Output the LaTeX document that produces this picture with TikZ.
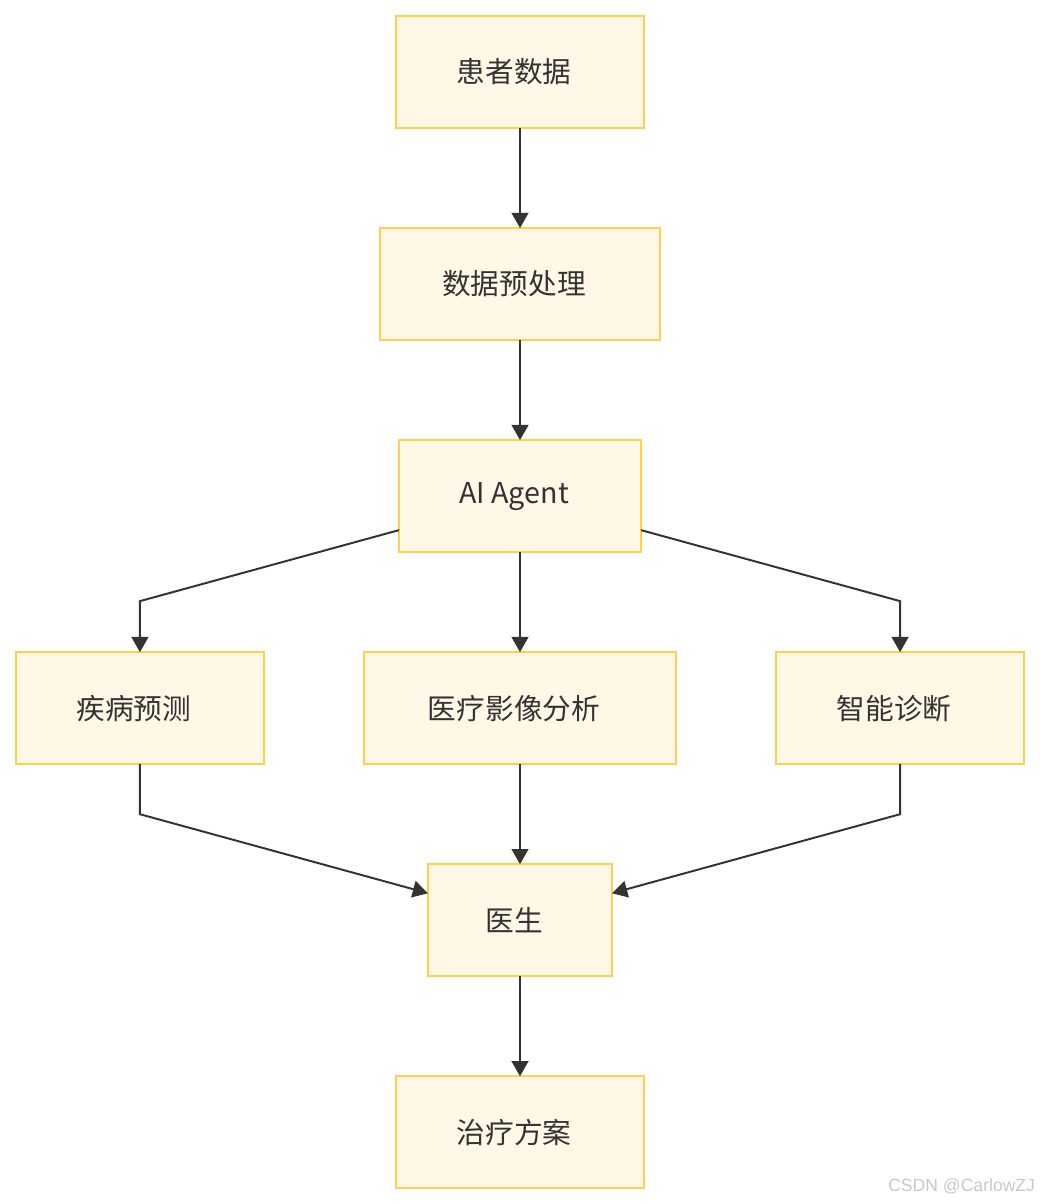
\documentclass[tikz,border=0pt]{standalone}
\usepackage{fontspec}
\setmainfont{Noto Sans CJK SC}
\newfontfamily\wmfont{Liberation Sans}
\usetikzlibrary{
  positioning,
  arrows.meta
}
\definecolor{flowFill}{HTML}{FFF8E6}
\definecolor{flowLine}{HTML}{FFD04F}
\definecolor{flowText}{HTML}{333333}
\definecolor{flowArrow}{HTML}{333333}
\definecolor{markGray}{HTML}{C8C8C8}

\begin{document}
\begin{tikzpicture}[
  x=0.025cm, y=-0.025cm,
  every node/.style={font=\fontsize{20.4}{24}\selectfont, text=flowText, align=center},
  flowbox/.style={
    rectangle, draw=flowLine, fill=flowFill, line width=1.4pt,
    minimum width=6.2cm, minimum height=2.8cm, inner sep=0pt, outer sep=0pt,
    execute at begin node=\hspace*{-0.3cm}
  },
  arrow/.style={-{Triangle[length=0.38cm, width=0.42cm]}, line width=1.4pt, draw=flowArrow}
]
 \useasboundingbox (0,0) rectangle (1040,1204);

 % Main column (top to bottom)
 \node[flowbox]                                      (pd) at (520,72) {患者数据};
 \node[flowbox, minimum width=7.0cm, below=2.5cm of pd]  (pre) {数据预处理};
 \node[flowbox, minimum width=6.05cm, below=2.5cm of pre] (ai) {AI Agent};

 % Row of analyses
 \node[flowbox, minimum width=7.8cm, below=2.5cm of ai]  (img) {医疗影像分析};
 \node[flowbox, left=2.5cm of img]                     (dp) {疾病预测};
 \node[flowbox, right=2.5cm of img]                    (dx) {智能诊断};

 % Doctor and plan
 \node[flowbox, minimum width=4.6cm, below=2.5cm of img] (doc) {医生};
 \node[flowbox, below=2.5cm of doc]                    (plan) {治疗方案};

 \draw[arrow] (pd) -- (pre); \draw[arrow] (pre) -- (ai);
 \draw[arrow] (ai) -- (img);
 \draw[arrow] ([yshift=-0.85cm]ai.west) -- ([yshift=1.275cm]dp.north) -- (dp.north);
 \draw[arrow] ([yshift=-0.85cm]ai.east) -- ([yshift=1.275cm]dx.north) -- (dx.north);

 \draw[arrow] (img) -- (doc);
 \draw[arrow] (dp.south) -- ([yshift=-1.25cm]dp.south) -- ([yshift=0.675cm]doc.west);
 \draw[arrow] (dx.south) -- ([yshift=-1.25cm]dx.south) -- ([yshift=0.675cm]doc.east);
 \draw[arrow] (doc) -- (plan);

 % watermark
 \node[font=\wmfont\fontsize{12.5}{15}\selectfont, text=markGray, anchor=east] (wm) at (1040,1186) {CSDN @CarlowZJ};
\end{tikzpicture}
\end{document}
